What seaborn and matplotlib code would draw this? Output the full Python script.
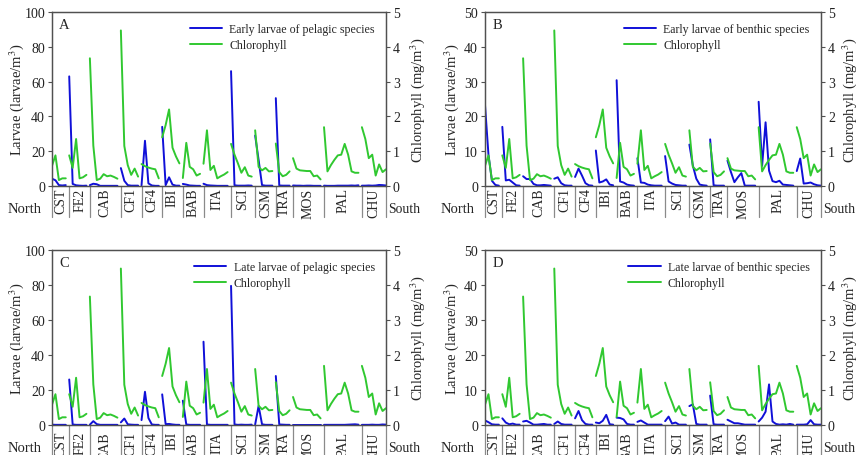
import matplotlib
matplotlib.use("Agg")
import matplotlib.pyplot as plt
import matplotlib.transforms as mtransforms
from matplotlib.lines import Line2D
import numpy as np
import pandas as pd
import seaborn as sns

# ---------------- data ----------------
groups = ["CST", "FE2", "CAB", "CF1", "CF4", "IBI", "BAB", "ITA", "SCI",
          "CSM", "TRA", "MOS", "PAL", "CHU"]

chlorophyll = [
    [0.58, 0.88, 0.17, 0.22, 0.22],
    [0.88, 0.52, 1.35, 0.22, 0.25, 0.32],
    [3.67, 1.16, 0.17, 0.21, 0.34, 0.28, 0.30, 0.26, 0.21],
    [4.47, 1.15, 0.60, 0.32, 0.50, 0.27],
    [0.63, 0.57, 0.53, 0.50, 0.48, 0.22],
    [1.40, 1.75, 2.20, 1.10, 0.85, 0.65],
    [0.23, 1.24, 0.55, 0.48, 0.30, 0.35],
    [0.64, 1.60, 0.46, 0.58, 0.22, 0.28, 0.33, 0.40],
    [1.21, 0.90, 0.65, 0.38, 0.54, 0.30, 0.27],
    [1.60, 0.55, 0.45, 0.52, 0.42, 0.43],
    [1.22, 0.40, 0.28, 0.32, 0.42],
    [0.80, 0.50, 0.45, 0.44, 0.43, 0.43, 0.28, 0.30, 0.19],
    [1.69, 0.42, 0.60, 0.75, 0.88, 0.90, 1.21, 0.90, 0.42, 0.38, 0.38],
    [1.69, 1.35, 0.80, 0.90, 0.30, 0.62, 0.40, 0.48],
]

early_pelagic = [
    [4.2, 3.3, 0.5, 0.3, 0.5],
    [63, 1.2, 0.4, 0.2, 0.1, 0.2],
    [0.5, 1.3, 1.0, 0.1, 0.1, 0.1, 0.1, 0.1, 0.1],
    [10.3, 3.0, 0.5, 0.2, 0.2, 0.2],
    [0.4, 26, 1.5, 0.3, 0.1, 0.1],
    [34, 0.5, 5.0, 0.8, 0.2, 0.2],
    [1.2, 0.8, 0.3, 0.2, 0.1, 0.1],
    [1.3, 0.5, 0.3, 0.2, 0.1, 0.1, 0.1, 0.1],
    [66, 0.4, 0.2, 0.2, 0.2, 0.3, 0.2],
    [29, 15, 0.5, 0.2, 0.2, 0.2],
    [50.5, 0.3, 0.2, 0.2, 0.2],
    [0.3, 0.2, 0.2, 0.1, 0.2, 0.2, 0.1, 0.1, 0.1],
    [0.2, 0.1, 0.1, 0.1, 0.2, 0.2, 0.2, 0.2, 0.3, 0.2, 0.4],
    [0.2, 0.2, 0.3, 0.2, 0.3, 0.6, 0.5, 0.3],
]

early_benthic = [
    [23.3, 9.0, 1.5, 0.3, 0.1],
    [17, 1.6, 1.8, 1.0, 0.2, 0.1],
    [2.8, 2.0, 2.0, 0.6, 0.2, 0.2, 0.3, 0.2, 0.1],
    [2.1, 2.5, 0.8, 0.2, 0.1, 0.1],
    [2.6, 5.0, 3.0, 0.8, 0.2, 0.1],
    [10.2, 1.0, 1.3, 1.9, 0.4, 0.2],
    [30.4, 1.3, 1.0, 0.4, 0.2, 0.1],
    [8.0, 1.0, 0.9, 0.4, 0.2, 0.1, 0.1, 0.1],
    [8.6, 1.3, 0.7, 0.3, 0.2, 0.1, 0.1],
    [11.9, 5.9, 2.1, 0.4, 0.2, 0.1],
    [13.4, 0.2, 0.1, 0.1, 0.1],
    [7.3, 4.0, 1.1, 2.5, 3.7, 0.1, 0.1, 0.1, 0.1],
    [24.2, 5.8, 18.3, 4.4, 1.4, 1.1, 1.5, 0.4, 0.3, 0.2, 0.1],
    [4.3, 7.9, 0.7, 0.8, 1.0, 0.5, 0.2, 0.1],
]

late_pelagic = [
    [0.2, 0.1, 0.1, 0.1, 0.1],
    [26, 0.3, 0.1, 0.1, 0.1, 0.1],
    [0.2, 2.2, 0.5, 0.1, 0.1, 0.1, 0.1, 0.1, 0.1],
    [1.5, 3.7, 0.4, 0.2, 0.1, 0.1],
    [2.8, 19, 4.0, 0.3, 0.1, 0.1],
    [17.5, 0.5, 0.6, 0.3, 0.1, 0.1],
    [13.9, 0.3, 0.1, 0.1, 0.1, 0.1],
    [47.6, 0.3, 0.1, 0.1, 0.1, 0.1, 0.1, 0.1],
    [79.5, 0.3, 0.1, 0.2, 0.1, 0.1, 0.2],
    [0.3, 10.9, 0.4, 0.1, 0.1, 0.1],
    [28, 0.3, 0.2, 0.1, 0.1],
    [0.1, 0.1, 0.1, 0.1, 0.1, 0.1, 0.1, 0.1, 0.1],
    [0.1, 0.1, 0.1, 0.1, 0.1, 0.1, 0.1, 0.2, 0.3, 0.4, 0.2],
    [0.1, 0.1, 0.1, 0.2, 0.1, 0.1, 0.3, 0.2],
]

late_benthic = [
    [1.3, 0.8, 0.2, 0.1, 0.1],
    [1.9, 0.7, 0.2, 0.4, 0.1, 0.1],
    [1.0, 1.2, 0.7, 0.1, 0.1, 0.2, 0.3, 0.1, 0.1],
    [0.3, 1.0, 0.3, 0.1, 0.1, 0.1],
    [1.9, 4.0, 1.4, 0.3, 0.1, 0.1],
    [0.7, 0.5, 1.2, 2.9, 0.2, 0.1],
    [2.1, 2.0, 1.6, 0.3, 0.1, 0.1],
    [0.9, 1.3, 0.7, 0.1, 0.1, 0.1, 0.1, 0.1],
    [1.1, 2.4, 0.4, 0.7, 0.1, 0.1, 0.1],
    [5.4, 5.9, 0.3, 0.1, 0.1, 0.1],
    [8.4, 0.2, 0.1, 0.1, 0.1],
    [1.5, 1.0, 0.5, 0.5, 0.3, 0.1, 0.1, 0.1, 0.1],
    [1.0, 2.1, 3.8, 11.6, 1.0, 0.3, 0.1, 0.2, 0.1, 0.3, 0.1],
    [0.1, 0.1, 0.1, 0.2, 1.4, 0.2, 0.1, 0.1],
]

panel_letters = ["A", "B", "C", "D"]
panel_labels = ["Early larvae of pelagic species", "Early larvae of benthic species",
                "Late larvae of pelagic species", "Late larvae of benthic species"]
panel_series = [early_pelagic, early_benthic, late_pelagic, late_benthic]
panel_ymax = [100, 50, 100, 50]

# ---------------- style ----------------
sns.set_theme(style="white")
plt.rcParams["font.family"] = ["Liberation Serif", "DejaVu Serif"]
plt.rcParams["mathtext.fontset"] = "stix"

BLUE = "#1010d8"
GREEN = "#30c830"
FRAME = "#505050"

# sample index layout (each station group occupies len(values) slots)
counts = [len(v) for v in chlorophyll]
starts = np.concatenate([[0], np.cumsum(counts)[:-1]])
xmax = int(np.sum(counts)) - 1
edges = list(starts) + [xmax]


def build_frame(series):
    rows = []
    for g, s0, larv, chl in zip(groups, starts, series, chlorophyll):
        for i, (lv, cv) in enumerate(zip(larv, chl)):
            rows.append({"group": g, "x": s0 + i, "larvae": lv, "chl": cv})
    return pd.DataFrame(rows)


fig = plt.figure(figsize=(8.56, 4.56), dpi=100)
W, H = 856.0, 456.0
boxes = [
    (52, 13, 334, 174),
    (485, 13, 336, 174),
    (52, 251, 334, 175),
    (485, 251, 336, 175),
]
left_pads = [-1.0, 2.5, -1.0, 2.5]
right_pads = [6.0, 3.5, 6.0, 3.5]

for k in range(4):
    l, t, w, h = boxes[k]
    ax = fig.add_axes([l / W, 1 - (t + h) / H, w / W, h / H])
    ax2 = ax.twinx()
    df = build_frame(panel_series[k])

    sns.lineplot(data=df, x="x", y="larvae", units="group", estimator=None,
                 color=BLUE, lw=1.4, ax=ax, legend=False)
    sns.lineplot(data=df, x="x", y="chl", units="group", estimator=None,
                 color=GREEN, lw=1.4, ax=ax2, legend=False)

    ymax = panel_ymax[k]
    ax.set_xlim(0, xmax)
    ax.set_ylim(0, ymax)
    ax2.set_ylim(0, 5)
    ax.set_yticks(np.linspace(0, ymax, 6))
    ax2.set_yticks(range(0, 6))
    ax.set_xticks([])
    ax.set_xlabel("")
    ax2.set_xlabel("")

    for a in (ax, ax2):
        for sp in a.spines.values():
            sp.set_color(FRAME)
            sp.set_linewidth(0.9)
        a.tick_params(axis="y", direction="out", length=3, width=0.8,
                      color=FRAME, labelsize=10, pad=2, labelcolor="#222222")
    ax.tick_params(axis="y", left=True)
    ax2.tick_params(axis="y", right=True)

    ax.set_ylabel("Larvae (larvae/m$^3$)", fontsize=10.5, labelpad=left_pads[k])
    ax2.set_ylabel("Chlorophyll (mg/m$^3$)", fontsize=10.5,
                   labelpad=right_pads[k])

    ax.text(0.022, 0.93, panel_letters[k], transform=ax.transAxes,
            fontsize=10.5, ha="left", va="center")

    handles = [Line2D([], [], color=BLUE, lw=1.4),
               Line2D([], [], color=GREEN, lw=1.4)]
    ax2.legend(handles, [panel_labels[k], "Chlorophyll"], loc="upper right",
               frameon=False, fontsize=8.6, handlelength=2.7,
               handletextpad=0.6, labelspacing=0.3, borderaxespad=0.7,
               borderpad=0.25)

    # station separators and names below the axis
    trans = mtransforms.blended_transform_factory(ax.transData, ax.transAxes)
    sep_bottom = -0.18 if k < 2 else -0.3
    for e in edges:
        ax.plot([e, e], [0, sep_bottom], transform=trans, color="#8a8a8a",
                lw=0.9, clip_on=False)
    name_top = -0.008 if k < 2 else -0.035
    for g, a0, a1 in zip(groups, edges[:-1], edges[1:]):
        ax.text((a0 + a1) / 2, name_top, g, transform=trans, rotation=90,
                ha="center", va="top", fontsize=10)
    ax.text(-0.03, -0.13, "North", transform=ax.transAxes, ha="right",
            va="center", fontsize=10.5)
    ax.text(1.006, -0.13, "South", transform=ax.transAxes, ha="left",
            va="center", fontsize=9.8)

fig.savefig("out.png", dpi=100)
